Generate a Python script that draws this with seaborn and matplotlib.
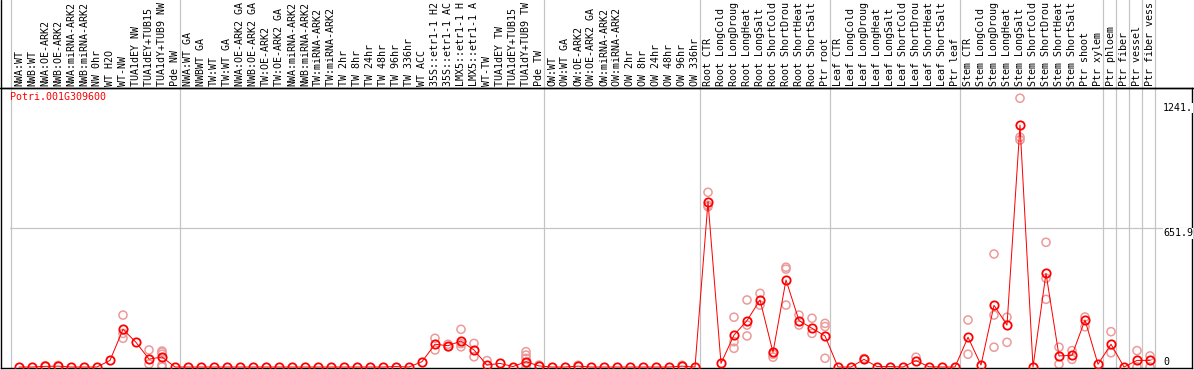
import numpy as np
import pandas as pd
import matplotlib
matplotlib.use("Agg")
import matplotlib.pyplot as plt
import matplotlib.transforms as mtransforms
from matplotlib.lines import Line2D
import seaborn as sns

# ======================
# DATA
# ======================
gene_id = "Potri.001G309600"

sample_labels = [
    # NW
    "NWA:WT", "NWB:WT", "NWA:OE-ARK2", "NWB:OE-ARK2", "NWA:miRNA-ARK2",
    "NWB:miRNA-ARK2", "NW 0hr", "WT H2O", "WT-NW", "TUA1dEY NW",
    "TUA1dEY+TUB15 NW", "TUA1dY+TUB9 NW", "Pde NW",
    # TW
    "NWA:WT GA", "NWBWT GA", "TW:WT", "TW:WT GA", "NWA:OE-ARK2 GA",
    "NWB:OE-ARK2 GA", "TW:OE-ARK2", "TW:OE-ARK2 GA", "NWA:miRNA-ARK2 GA",
    "NWB:miRNA-ARK2 GA", "TW:miRNA-ARK2", "TW:miRNA-ARK2 GA", "TW 2hr",
    "TW 8hr", "TW 24hr", "TW 48hr", "TW 96hr", "TW 336hr", "WT ACC",
    "35S::etr1-1 H2O", "35S::etr1-1 ACC", "LMX5::etr1-1 H2O",
    "LMX5::etr1-1 ACC", "WT-TW", "TUA1dEY TW", "TUA1dEY+TUB15 TW",
    "TUA1dY+TUB9 TW", "Pde TW",
    # OW
    "OW:WT", "OW:WT GA", "OW:OE-ARK2", "OW:OE-ARK2 GA", "OW:miRNA-ARK2",
    "OW:miRNA-ARK2 GA", "OW 2hr", "OW 8hr", "OW 24hr", "OW 48hr",
    "OW 96hr", "OW 336hr",
    # Root
    "Root CTR", "Root LongCold", "Root LongDrought", "Root LongHeat",
    "Root LongSalt", "Root ShortCold", "Root ShortDrought", "Root ShortHeat",
    "Root ShortSalt", "Ptr root",
    # Leaf
    "Leaf CTR", "Leaf LongCold", "Leaf LongDrought", "Leaf LongHeat",
    "Leaf LongSalt", "Leaf ShortCold", "Leaf ShortDrought", "Leaf ShortHeat",
    "Leaf ShortSalt", "Ptr leaf",
    # Stem
    "Stem CTR", "Stem LongCold", "Stem LongDrought", "Stem LongHeat",
    "Stem LongSalt", "Stem ShortCold", "Stem ShortDrought", "Stem ShortHeat",
    "Stem ShortSalt", "Ptr shoot", "Ptr xylem",
    # single tissues
    "Ptr phloem", "Ptr fiber", "Ptr vessel", "Ptr fiber vessel",
]

mean_expr = [
    0, 0, 3, 4, 0, 0, 0, 31, 177, 116, 37, 47, 0,
    0, 0, 0, 0, 0, 0, 0, 0, 0, 0, 0, 0, 0, 0, 0, 0, 2,
    0, 25, 107, 100, 122, 80, 9, 17, 2, 25, 5,
    0, 0, 4, 0, 0, 0, 0, 0, 0, 0, 4, 0,
    777, 17, 150, 218, 315, 69, 409, 218, 182, 146,
    0, 0, 36, 2, 2, 0, 30, 1, 0, 0,
    140, 9, 290, 197, 1137, 0, 440, 52, 55, 221, 13,
    107, 0, 31, 31,
]

# replicate values (sample index, value)
rep_idx = [
    2, 3, 8, 8, 8, 10, 10, 11, 11, 11, 11, 11,
    32, 32, 33, 33, 34, 34, 34, 35, 35, 36, 39, 39, 39, 39, 39, 40,
    43, 51,
    53, 53, 53, 55, 55, 55, 56, 56, 56, 57, 57, 58, 58, 59, 59, 59,
    60, 60, 61, 61, 62, 62, 62, 65, 69,
    73, 73, 75, 75, 75, 76, 76, 77, 77, 77, 79, 79, 79, 80, 80,
    81, 81, 82, 82, 84, 84, 86, 86, 87, 87,
]
rep_val = [
    6, 7, 244, 158, 135, 80, 14, 75, 70, 60, 9, 0,
    135, 80, 107, 95, 177, 95, 110, 111, 48, 30, 72, 56, 41, 17, 0, 9,
    8, 8,
    821, 753, 760, 234, 119, 88, 315, 197, 146, 346, 291, 60, 46, 469, 291, 460,
    244, 197, 229, 158, 205, 190, 41, 40, 46,
    221, 60, 531, 244, 93, 234, 116, 1263, 1080, 1067, 586, 417, 318, 93, 13,
    77, 36, 235, 189, 166, 67, 77, 0, 52, 0,
]

# group separators (sample index where a new block starts)
group_starts = [0, 13, 41, 53, 63, 73, 84, 85, 86, 87, 88]

axis_labels = ["1241.", "651.9", "0"]
axis_values = [1241, 651.9, 0]

# ======================
# STYLE
# ======================
sns.set_style("white")
plt.rcParams["font.family"] = ["DejaVu Sans Mono"]
W, H = 1194, 370
px = 0.72  # one pixel in points at dpi 100

mean_df = pd.DataFrame({"idx": range(len(mean_expr)), "expr": mean_expr})
rep_df = pd.DataFrame({"idx": rep_idx, "expr": rep_val})

fig = plt.figure(figsize=(W / 100, H / 100), dpi=100)
# plot box: x 1..1192, y 88..368 (image pixels)
ax = fig.add_axes([1 / W, (H - 368) / H, 1191 / W, 280 / H])

ax.set_xlim((1 - 19) / 13, (1192 - 19) / 13)
scale = 0.2128
ax.set_ylim(-1 / scale, (367 - 88) / scale)

# separators and grid line
for g in group_starts:
    ax.axvline(g - 8 / 13, ymin=0, ymax=368 / 280, color="#c4c4c4",
               lw=px * 1.2, clip_on=False, zorder=1)
ax.axhline(651.9, xmin=9 / 1191, xmax=1, color="#c4c4c4", lw=px * 1.2, zorder=1)

# replicates
sns.scatterplot(data=rep_df, x="idx", y="expr", ax=ax, marker="o", s=34,
                facecolor="none", edgecolor="#ec9a9a", linewidth=1.1,
                zorder=2, legend=False)

# mean line
sns.lineplot(data=mean_df, x="idx", y="expr", ax=ax, color="red", lw=px,
             marker="o", markersize=6, markerfacecolor="none",
             markeredgecolor="red", markeredgewidth=1.3, zorder=3,
             legend=False)

# column labels above the plot
trans = mtransforms.blended_transform_factory(ax.transData, ax.transAxes)
for i, name in enumerate(sample_labels):
    ax.text(i, 1 + 2.5 / 280, name[:14], rotation=90, ha="center", va="bottom",
            fontsize=7.2, color="black", transform=trans, clip_on=False)

# value labels on the right
for lab, val in zip(axis_labels, axis_values):
    ax.text((1163 - 19) / 13, val, lab, ha="left",
            va="bottom" if val == 0 else "top", fontsize=7.2, color="black",
            bbox=dict(facecolor="white", edgecolor="none", pad=0.3), zorder=4)

ax.text(9 / 1191, 1 - 9.5 / 280, gene_id, color="red", fontsize=7.2,
        ha="left", va="center", transform=ax.transAxes)

ax.set_xlabel("")
ax.set_ylabel("")
ax.set_xticks([])
ax.set_yticks([])
for s in ax.spines.values():
    s.set_color("black")
    s.set_linewidth(px * 1.4)

# frame lines outside the box
fig.add_artist(Line2D([0, 1], [(H - 88) / H] * 2, color="black", lw=px * 1.4))
fig.add_artist(Line2D([1.2 / W] * 2, [(H - 88) / H, 1], color="black", lw=px * 1.4))

fig.savefig("out.png", dpi=100)
